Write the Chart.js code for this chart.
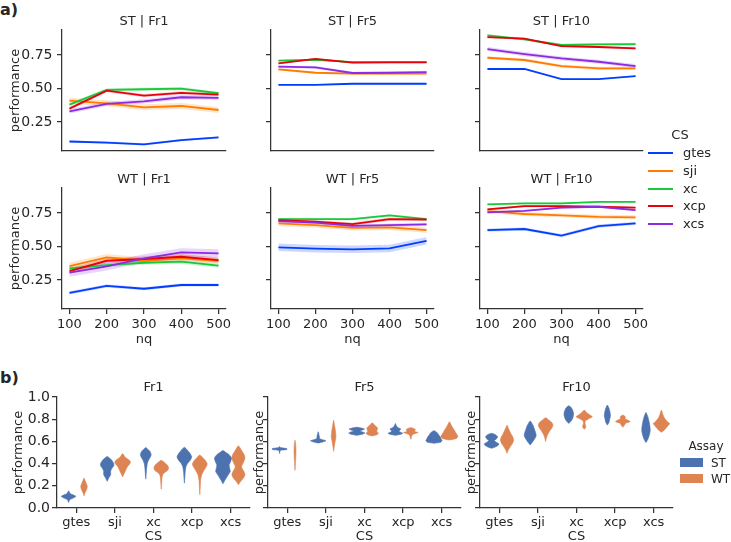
<!DOCTYPE html>
<html>
<head>
<meta charset="utf-8">
<script src="https://cdn.jsdelivr.net/npm/chart.js@4.4.1/dist/chart.umd.min.js"></script>
<style>
    body { margin: 0; width: 731px; height: 542px; overflow: hidden; background: #fff; position: relative; font-family: 'DejaVu Sans', sans-serif; color: #262626; }
    canvas { position: absolute; }
    .txt { position: absolute; font-size: 13px; line-height: 16px; white-space: nowrap; }
    .txt.small { font-size: 12px; }
    .panel { position: absolute; font-size: 16px; font-weight: bold; line-height: 18px; }
</style>
</head>
<body>

<div class="panel" style="left:0px;top:1px;">a)</div>
<div class="panel" style="left:0px;top:369px;">b)</div>

<canvas id="a11" width="240" height="155" style="left:0px;top:0px;"></canvas>
<canvas id="a12" width="197" height="155" style="left:251px;top:0px;"></canvas>
<canvas id="a13" width="197" height="155" style="left:460px;top:0px;"></canvas>
<canvas id="a21" width="240" height="190" style="left:0px;top:158px;"></canvas>
<canvas id="a22" width="197" height="190" style="left:251px;top:158px;"></canvas>
<canvas id="a23" width="197" height="190" style="left:460px;top:158px;"></canvas>

<canvas id="b1" width="258" height="179" style="left:0px;top:366px;"></canvas>
<canvas id="b2" width="221" height="179" style="left:248px;top:366px;"></canvas>
<canvas id="b3" width="221" height="179" style="left:460px;top:366px;"></canvas>

<div id="legendCS"></div>
<div id="legendAssay"></div>

<script>
// categorias / eixos
const NQ = [100, 200, 300, 400, 500];
const CS = ['gtes', 'sji', 'xc', 'xcp', 'xcs'];
const ASSAY = ['ST', 'WT'];
const Y_TICKS_A = [0.25, 0.5, 0.75];
const Y_TICKS_B = [0, 0.2, 0.4, 0.6, 0.8, 1.0];

// painel a) medias por CS (linhas: gtes, sji, xc, xcp, xcs)
const ST_FR1 = [
    [0.105, 0.097, 0.083, 0.115, 0.135],
    [0.41, 0.39, 0.36, 0.37, 0.34],
    [0.38, 0.49, 0.495, 0.50, 0.465],
    [0.35, 0.485, 0.447, 0.468, 0.455],
    [0.33, 0.385, 0.405, 0.435, 0.43]
];
const ST_FR5 = [
    [0.528, 0.528, 0.536, 0.536, 0.536],
    [0.643, 0.618, 0.611, 0.611, 0.611],
    [0.708, 0.715, 0.698, 0.698, 0.698],
    [0.688, 0.722, 0.693, 0.695, 0.695],
    [0.663, 0.658, 0.616, 0.618, 0.623]
];
const ST_FR10 = [
    [0.646, 0.646, 0.571, 0.571, 0.593],
    [0.73, 0.713, 0.668, 0.651, 0.651],
    [0.897, 0.867, 0.825, 0.83, 0.832],
    [0.884, 0.872, 0.817, 0.81, 0.80],
    [0.795, 0.757, 0.725, 0.70, 0.668]
];
const WT_FR1 = [
    [0.155, 0.207, 0.185, 0.213, 0.213],
    [0.354, 0.419, 0.394, 0.412, 0.394],
    [0.337, 0.362, 0.379, 0.387, 0.357],
    [0.317, 0.394, 0.407, 0.424, 0.399],
    [0.305, 0.352, 0.412, 0.457, 0.449]
];
const WT_FR5 = [
    [0.494, 0.484, 0.479, 0.486, 0.543],
    [0.673, 0.66, 0.64, 0.643, 0.623],
    [0.705, 0.705, 0.705, 0.733, 0.705],
    [0.698, 0.685, 0.668, 0.705, 0.702],
    [0.69, 0.678, 0.655, 0.66, 0.665]
];
const WT_FR10 = [
    [0.623, 0.631, 0.581, 0.653, 0.673],
    [0.765, 0.743, 0.733, 0.722, 0.718],
    [0.815, 0.822, 0.822, 0.834, 0.834],
    [0.777, 0.802, 0.802, 0.797, 0.79],
    [0.755, 0.767, 0.79, 0.797, 0.772]
];

// meia largura do intervalo de confianca (por CS)
const ST_FR1_CI = [0.008, 0.022, 0.012, 0.012, 0.016];
const ST_FR5_CI = [0.005, 0.008, 0.006, 0.006, 0.01];
const ST_FR10_CI = [0.005, 0.012, 0.01, 0.008, 0.015];
const WT_FR1_CI = [0.012, 0.025, 0.015, 0.02, 0.03];
const WT_FR5_CI = [0.028, 0.02, 0.008, 0.012, 0.012];
const WT_FR10_CI = [0.012, 0.015, 0.006, 0.008, 0.008];

// painel b) violinos: [performance, meia largura] de baixo para cima
const FR1_ST = [
    [[0.05, 0], [0.075, 0.03], [0.095, 0.15], [0.105, 0.19], [0.115, 0.14], [0.13, 0.04], [0.155, 0]],
    [[0.24, 0], [0.27, 0.04], [0.30, 0.09], [0.33, 0.09], [0.35, 0.11], [0.38, 0.17], [0.40, 0.17], [0.43, 0.12], [0.45, 0.06], [0.465, 0]],
    [[0.26, 0], [0.30, 0.01], [0.35, 0.02], [0.40, 0.04], [0.43, 0.07], [0.46, 0.12], [0.48, 0.14], [0.51, 0.11], [0.53, 0.05], [0.545, 0]],
    [[0.224, 0], [0.27, 0.01], [0.32, 0.02], [0.37, 0.04], [0.40, 0.08], [0.43, 0.15], [0.46, 0.19], [0.49, 0.15], [0.52, 0.08], [0.547, 0]],
    [[0.218, 0], [0.25, 0.05], [0.29, 0.12], [0.33, 0.19], [0.36, 0.17], [0.39, 0.16], [0.42, 0.2], [0.45, 0.22], [0.48, 0.16], [0.50, 0.08], [0.517, 0]]
];
const FR1_WT = [
    [[0.11, 0], [0.14, 0.03], [0.17, 0.07], [0.195, 0.085], [0.22, 0.06], [0.25, 0.025], [0.27, 0]],
    [[0.28, 0], [0.31, 0.04], [0.34, 0.08], [0.37, 0.12], [0.40, 0.19], [0.42, 0.2], [0.44, 0.14], [0.46, 0.06], [0.49, 0]],
    [[0.17, 0], [0.22, 0.01], [0.27, 0.02], [0.30, 0.04], [0.32, 0.09], [0.34, 0.17], [0.36, 0.19], [0.38, 0.17], [0.40, 0.12], [0.42, 0.05], [0.43, 0]],
    [[0.12, 0], [0.18, 0.01], [0.25, 0.02], [0.30, 0.05], [0.34, 0.11], [0.38, 0.18], [0.40, 0.19], [0.43, 0.14], [0.46, 0.06], [0.478, 0]],
    [[0.21, 0], [0.24, 0.06], [0.27, 0.13], [0.30, 0.17], [0.33, 0.14], [0.37, 0.08], [0.41, 0.13], [0.45, 0.17], [0.48, 0.15], [0.52, 0.08], [0.56, 0]]
];
const FR5_ST = [
    [[0.49, 0], [0.51, 0.01], [0.52, 0.03], [0.527, 0.19], [0.535, 0.19], [0.545, 0.02], [0.555, 0]],
    [[0.585, 0], [0.595, 0.12], [0.605, 0.2], [0.615, 0.12], [0.625, 0.04], [0.645, 0.03], [0.66, 0.02], [0.687, 0]],
    [[0.655, 0], [0.665, 0.15], [0.675, 0.21], [0.685, 0.15], [0.694, 0.08], [0.703, 0.15], [0.712, 0.2], [0.72, 0.12], [0.727, 0]],
    [[0.655, 0], [0.665, 0.15], [0.675, 0.19], [0.688, 0.1], [0.70, 0.11], [0.712, 0.14], [0.725, 0.06], [0.745, 0.02], [0.762, 0]],
    [[0.583, 0], [0.592, 0.17], [0.605, 0.21], [0.62, 0.19], [0.635, 0.17], [0.65, 0.14], [0.665, 0.11], [0.68, 0.08], [0.697, 0]]
];
const FR5_WT = [
    [[0.34, 0], [0.40, 0.01], [0.46, 0.02], [0.51, 0.025], [0.56, 0.02], [0.61, 0]],
    [[0.51, 0], [0.56, 0.02], [0.60, 0.04], [0.64, 0.06], [0.69, 0.05], [0.74, 0.025], [0.79, 0]],
    [[0.649, 0], [0.66, 0.12], [0.673, 0.16], [0.69, 0.12], [0.705, 0.13], [0.72, 0.14], [0.735, 0.1], [0.75, 0.05], [0.768, 0]],
    [[0.619, 0], [0.64, 0.015], [0.66, 0.04], [0.672, 0.12], [0.68, 0.19], [0.69, 0.1], [0.705, 0.12], [0.715, 0.09], [0.723, 0]],
    [[0.613, 0], [0.625, 0.17], [0.643, 0.22], [0.66, 0.2], [0.68, 0.16], [0.70, 0.13], [0.72, 0.09], [0.745, 0.05], [0.777, 0]]
];
const FR10_ST = [
    [[0.538, 0], [0.55, 0.1], [0.565, 0.17], [0.577, 0.19], [0.592, 0.12], [0.607, 0.07], [0.625, 0.13], [0.643, 0.155], [0.66, 0.1], [0.673, 0]],
    [[0.568, 0], [0.59, 0.05], [0.62, 0.11], [0.65, 0.155], [0.68, 0.14], [0.71, 0.11], [0.74, 0.08], [0.76, 0.05], [0.783, 0]],
    [[0.762, 0], [0.78, 0.05], [0.80, 0.09], [0.83, 0.12], [0.86, 0.12], [0.89, 0.09], [0.91, 0.05], [0.921, 0]],
    [[0.747, 0], [0.77, 0.04], [0.80, 0.06], [0.83, 0.08], [0.86, 0.07], [0.89, 0.05], [0.927, 0]],
    [[0.589, 0], [0.62, 0.05], [0.66, 0.09], [0.70, 0.11], [0.74, 0.1], [0.78, 0.08], [0.82, 0.05], [0.861, 0]]
];
const FR10_WT = [
    [[0.493, 0], [0.52, 0.03], [0.55, 0.08], [0.58, 0.14], [0.61, 0.17], [0.64, 0.15], [0.67, 0.1], [0.70, 0.06], [0.73, 0.02], [0.747, 0]],
    [[0.598, 0], [0.63, 0.02], [0.66, 0.05], [0.69, 0.1], [0.72, 0.16], [0.745, 0.19], [0.77, 0.16], [0.79, 0.09], [0.813, 0]],
    [[0.709, 0], [0.72, 0.03], [0.74, 0.04], [0.76, 0.02], [0.785, 0.03], [0.805, 0.12], [0.822, 0.21], [0.84, 0.14], [0.86, 0.06], [0.882, 0]],
    [[0.727, 0], [0.745, 0.04], [0.765, 0.08], [0.778, 0.19], [0.79, 0.14], [0.805, 0.06], [0.82, 0.07], [0.837, 0]],
    [[0.682, 0], [0.70, 0.07], [0.72, 0.12], [0.745, 0.18], [0.762, 0.21], [0.78, 0.15], [0.81, 0.08], [0.84, 0.04], [0.882, 0]]
];

var CS_COLORS = ['#023eff', '#ff7c00', '#1ac938', '#e8000b', '#8b2be2'];
var ASSAY_COLORS = ['#4c72b0', '#dd8452'];
var AX = '#333333';
var TXT = '#262626';
var FONT = { family: "'DejaVu Sans', sans-serif", size: 13, weight: 'normal', lineHeight: 1.2 };
var FONT_Y = { family: "'DejaVu Sans', sans-serif", size: 14, weight: 'normal', lineHeight: 1.2 };

function hexA(hex, a) {
    var n = parseInt(hex.slice(1), 16);
    return 'rgba(' + (n >> 16 & 255) + ',' + (n >> 8 & 255) + ',' + (n & 255) + ',' + a + ')';
}

// tamanho fixo do eixo para alinhar as areas dos graficos
function fixedAxis(size) {
    return function (scale) {
        if (scale.isHorizontal()) {
            scale.height = size;
            scale.paddingLeft = 0;
            scale.paddingRight = 0;
        } else {
            scale.width = size;
            scale.paddingTop = 0;
            scale.paddingBottom = 0;
        }
    };
}

function lineChart(id, rows, ci, title, showX, showY) {
    var datasets = [];
    rows.forEach(function (vals, s) {
        datasets.push({
            data: NQ.map(function (x, i) { return { x: x, y: vals[i] + ci[s] }; }),
            borderWidth: 0, pointRadius: 0, fill: '+1',
            backgroundColor: hexA(CS_COLORS[s], 0.2), order: 20 - s
        });
        datasets.push({
            data: NQ.map(function (x, i) { return { x: x, y: vals[i] - ci[s] }; }),
            borderWidth: 0, pointRadius: 0, fill: false, order: 20 - s
        });
        datasets.push({
            data: NQ.map(function (x, i) { return { x: x, y: vals[i] }; }),
            borderColor: CS_COLORS[s], borderWidth: 1.8, pointRadius: 0, fill: false, order: 10 - s
        });
    });

    new Chart(document.getElementById(id), {
        type: 'line',
        data: { datasets: datasets },
        options: {
            responsive: false,
            animation: false,
            events: [],
            layout: { padding: { top: 0, right: 14, bottom: showX ? 0 : 4, left: 0 } },
            plugins: {
                legend: { display: false },
                tooltip: { enabled: false },
                title: { display: true, fullSize: false, text: title, color: TXT, font: FONT, padding: { top: 14, bottom: 0.4 } }
            },
            scales: {
                x: {
                    type: 'linear', min: 80, max: 520,
                    afterBuildTicks: function (s) { s.ticks = NQ.map(function (v) { return { value: v }; }); },
                    ticks: { display: showX, color: TXT, font: FONT, padding: 3.2, maxRotation: 0, autoSkip: false },
                    grid: { drawOnChartArea: false, drawTicks: showX, tickLength: 5, color: AX, lineWidth: 1.25 },
                    border: { display: true, color: AX, width: 1.25 },
                    title: { display: showX, text: 'nq', color: TXT, font: FONT, padding: { top: 0, bottom: 0.2 } },
                    afterFit: fixedAxis(showX ? 39 : 0)
                },
                y: {
                    min: 0.034, max: 0.937,
                    afterBuildTicks: function (s) { s.ticks = Y_TICKS_A.map(function (v) { return { value: v }; }); },
                    ticks: { display: showY, color: TXT, font: FONT_Y, padding: 4.5, callback: function (v) { return v.toFixed(2); } },
                    grid: { drawOnChartArea: false, drawTicks: true, tickLength: 5, color: AX, lineWidth: 1.25 },
                    border: { display: true, color: AX, width: 1.25 },
                    title: { display: showY, text: 'performance', color: TXT, font: FONT, padding: { top: 8.2, bottom: 0 } },
                    afterFit: fixedAxis(showY ? 62 : 20)
                }
            }
        }
    });
}

function violinChart(id, st, wt, title, showY, yAxisW, yTitlePad) {
    var datasets = [];
    [st, wt].forEach(function (group, g) {
        var off = g === 0 ? -0.2 : 0.2;
        group.forEach(function (knots, i) {
            var c = i + off;
            var right = knots.map(function (k) { return { x: c + k[1], y: k[0] }; });
            var left = knots.slice(0, -1).reverse().map(function (k) { return { x: c - k[1], y: k[0] }; });
            datasets.push({
                data: right.concat(left),
                showLine: true, fill: 'shape', tension: 0.2,
                backgroundColor: ASSAY_COLORS[g], borderColor: ASSAY_COLORS[g],
                borderWidth: 0.6, pointRadius: 0
            });
        });
    });

    new Chart(document.getElementById(id), {
        type: 'scatter',
        data: { datasets: datasets },
        options: {
            responsive: false,
            animation: false,
            events: [],
            layout: { padding: { top: 0, right: 8, bottom: 0, left: 0 } },
            plugins: {
                legend: { display: false },
                tooltip: { enabled: false },
                title: { display: true, fullSize: false, text: title, color: TXT, font: FONT, padding: { top: 14, bottom: 1.4 } }
            },
            scales: {
                x: {
                    type: 'linear', min: -0.5, max: 4.5,
                    afterBuildTicks: function (s) { s.ticks = CS.map(function (c, i) { return { value: i }; }); },
                    ticks: { color: TXT, font: FONT, padding: 2.2, maxRotation: 0, autoSkip: false, callback: function (v) { return CS[v]; } },
                    grid: { drawOnChartArea: false, drawTicks: true, tickLength: 5, color: AX, lineWidth: 1.25 },
                    border: { display: true, color: AX, width: 1.25 },
                    title: { display: true, text: 'CS', color: TXT, font: FONT, padding: { top: 0, bottom: 0.2 } },
                    afterFit: fixedAxis(37)
                },
                y: {
                    min: 0, max: 1,
                    afterBuildTicks: function (s) { s.ticks = Y_TICKS_B.map(function (v) { return { value: v }; }); },
                    ticks: { display: showY, color: TXT, font: FONT_Y, padding: 2, callback: function (v) { return v.toFixed(1); } },
                    grid: { drawOnChartArea: false, drawTicks: true, tickLength: 5, color: AX, lineWidth: 1.25 },
                    border: { display: true, color: AX, width: 1.25 },
                    title: { display: true, text: 'performance', color: TXT, font: FONT, padding: { top: yTitlePad, bottom: 0 } },
                    afterFit: fixedAxis(yAxisW)
                }
            }
        }
    });
}

function carregaLegendas() {
    var html = '<div class="txt" style="left:640px;top:127px;width:80px;text-align:center;">CS</div>';
    CS.forEach(function (nome, i) {
        var cy = 152.7 + 17.9 * i;
        html += '<div style="position:absolute;left:648px;top:' + (cy - 1) + 'px;width:25px;height:2px;background:' + CS_COLORS[i] + ';"></div>';
        html += '<div class="txt" style="left:683px;top:' + (cy - 8) + 'px;">' + nome + '</div>';
    });
    document.getElementById('legendCS').innerHTML = html;

    var html2 = '<div class="txt small" style="left:666px;top:438px;width:80px;text-align:center;">Assay</div>';
    ASSAY.forEach(function (nome, i) {
        var cy = 462.5 + 16 * i;
        html2 += '<div style="position:absolute;left:680px;top:' + (cy - 4.5) + 'px;width:23px;height:9px;background:' + ASSAY_COLORS[i] + ';"></div>';
        html2 += '<div class="txt small" style="left:711px;top:' + (cy - 8) + 'px;">' + nome + '</div>';
    });
    document.getElementById('legendAssay').innerHTML = html2;
}

lineChart('a11', ST_FR1, ST_FR1_CI, 'ST | Fr1', false, true);
lineChart('a12', ST_FR5, ST_FR5_CI, 'ST | Fr5', false, false);
lineChart('a13', ST_FR10, ST_FR10_CI, 'ST | Fr10', false, false);
lineChart('a21', WT_FR1, WT_FR1_CI, 'WT | Fr1', true, true);
lineChart('a22', WT_FR5, WT_FR5_CI, 'WT | Fr5', true, false);
lineChart('a23', WT_FR10, WT_FR10_CI, 'WT | Fr10', true, false);

violinChart('b1', FR1_ST, FR1_WT, 'Fr1', true, 57, 11.2);
violinChart('b2', FR5_ST, FR5_WT, 'Fr5', false, 20, 4.2);
violinChart('b3', FR10_ST, FR10_WT, 'Fr10', false, 20, 4.2);

carregaLegendas();
</script>
</body>
</html>
